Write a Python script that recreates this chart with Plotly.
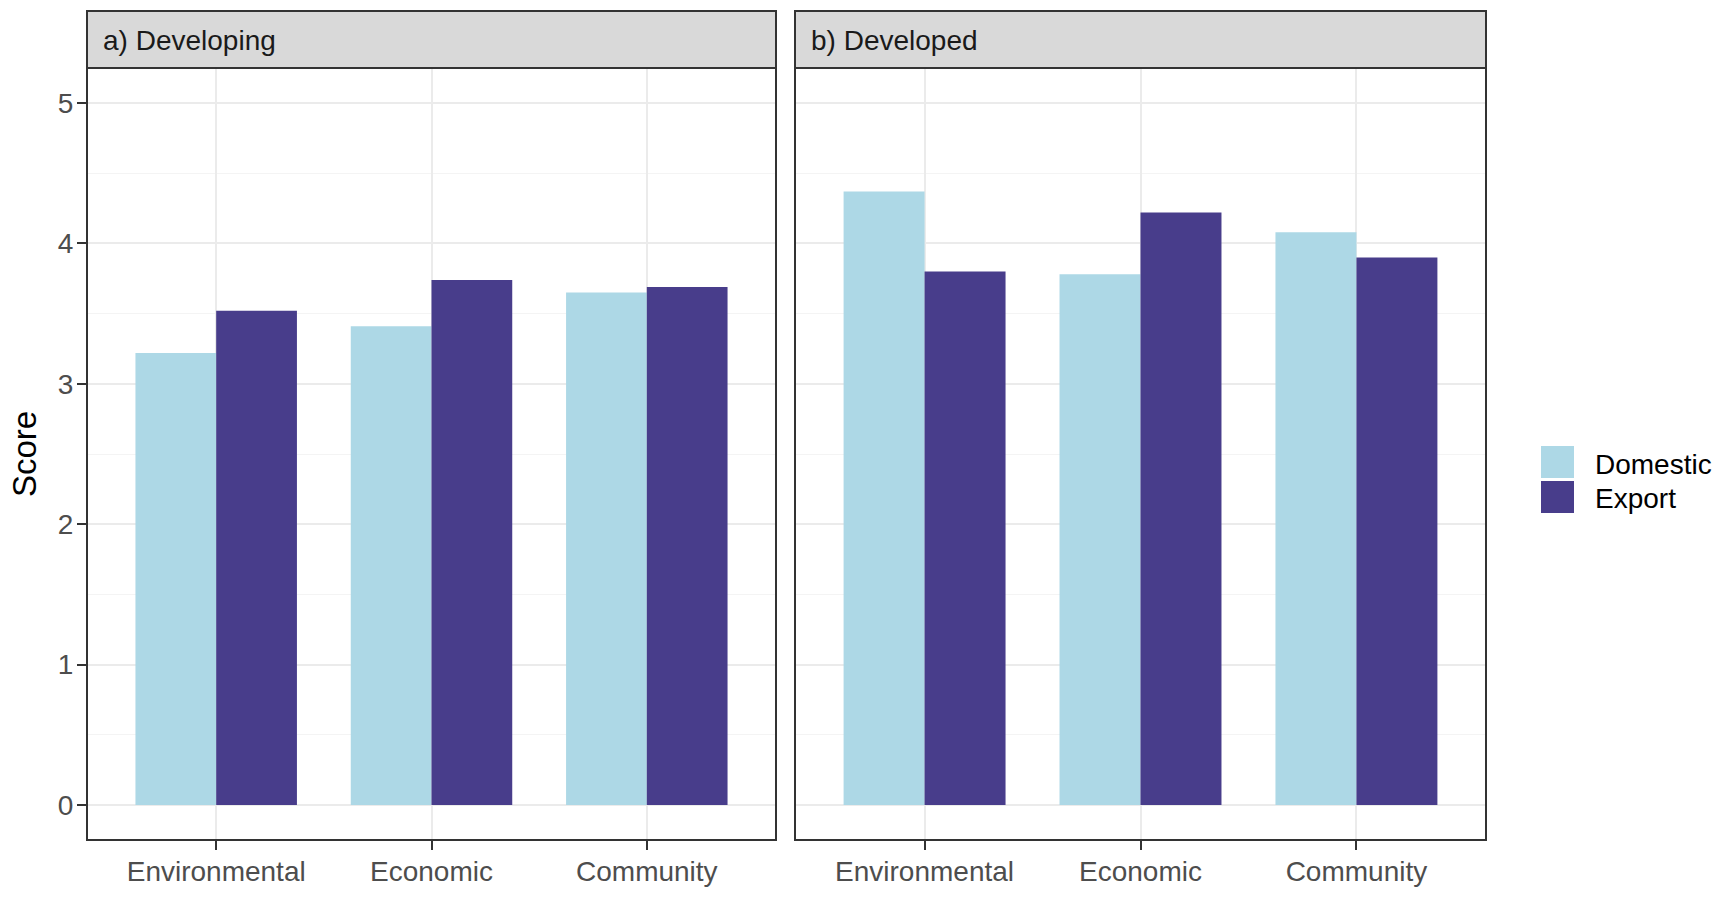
import plotly.graph_objects as go

# ---- data ----
categories = ["Environmental", "Economic", "Community"]
panels = ["a) Developing", "b) Developed"]
series_names = ["Domestic", "Export"]
developing_domestic = [3.22, 3.41, 3.65]
developing_export = [3.52, 3.74, 3.69]
developed_domestic = [4.37, 3.78, 4.08]
developed_export = [3.80, 4.22, 3.90]
y_ticks = [0, 1, 2, 3, 4, 5]
colors = ["#ADD8E6", "#483D8B"]

W, H = 1728, 900
FONT = "Liberation Sans, Arial, sans-serif"

def px(x):
    return x / W

def py(y):
    return 1 - y / H

# panel geometry (pixels)
left_panel = (87, 776)
right_panel = (795, 1486)
plot_top, plot_bottom = 68, 840
strip_top = 11

fig = go.Figure()

panel_data = [
    (developing_domestic, developing_export),
    (developed_domestic, developed_export),
]
for i, (dom, exp) in enumerate(panel_data):
    xa = "x" if i == 0 else "x2"
    ya = "y" if i == 0 else "y2"
    for s, vals in enumerate([dom, exp]):
        fig.add_trace(go.Bar(
            x=categories, y=vals, name=series_names[s],
            marker=dict(color=colors[s], line=dict(width=0)),
            xaxis=xa, yaxis=ya, showlegend=False,
            offsetgroup=str(s), legendgroup=series_names[s],
        ))

axis_common = dict(
    showline=False, zeroline=False, mirror=False,
    ticks="outside", ticklen=9, tickwidth=2, tickcolor="#333333",
    tickfont=dict(family=FONT, size=28, color="#4D4D4D"),
    showgrid=True, gridcolor="#EBEBEB", gridwidth=2,
)

yaxis_common = dict(axis_common)
yaxis_common.update(
    range=[-0.25, 5.25], tickvals=y_ticks,
    minor=dict(tickvals=[0.5, 1.5, 2.5, 3.5, 4.5], showgrid=True,
               gridcolor="#F4F4F4", gridwidth=1, ticks=""),
    domain=[py(plot_bottom), py(plot_top)],
    ticklabelstandoff=-2,
)

xaxis_common = dict(axis_common)
xaxis_common.update(range=[-0.6, 2.6], type="category", ticklabelstandoff=-3)

fig.update_layout(
    width=W, height=H,
    margin=dict(l=0, r=0, t=0, b=0),
    paper_bgcolor="white", plot_bgcolor="white",
    barmode="group", bargap=0.25, bargroupgap=0,
    showlegend=False,
    xaxis=dict(xaxis_common, domain=[px(left_panel[0]), px(left_panel[1])], anchor="y"),
    xaxis2=dict(xaxis_common, domain=[px(right_panel[0]), px(right_panel[1])], anchor="y2"),
    yaxis=dict(yaxis_common, anchor="x"),
    yaxis2=dict(yaxis_common, anchor="x2", showticklabels=False, ticks=""),
)

shapes = []
annotations = []
for (x0, x1), label in zip([left_panel, right_panel], panels):
    # strip background
    shapes.append(dict(type="rect", xref="paper", yref="paper",
                       x0=px(x0), x1=px(x1), y0=py(plot_top), y1=py(strip_top),
                       fillcolor="#D9D9D9", line=dict(color="#333333", width=2), layer="below"))
    # panel border
    shapes.append(dict(type="rect", xref="paper", yref="paper",
                       x0=px(x0), x1=px(x1), y0=py(plot_bottom), y1=py(plot_top),
                       fillcolor="rgba(0,0,0,0)", line=dict(color="#333333", width=2), layer="above"))
    annotations.append(dict(text=label, xref="paper", yref="paper",
                            x=px(x0 + 14), y=py((strip_top + plot_top) / 2 + 1),
                            xanchor="left", yanchor="middle", showarrow=False,
                            font=dict(family=FONT, size=28, color="#1A1A1A")))

# y-axis title
annotations.append(dict(text="Score", xref="paper", yref="paper",
                        x=px(24), y=py((plot_top + plot_bottom) / 2),
                        xanchor="center", yanchor="middle", textangle=-90, showarrow=False,
                        font=dict(family=FONT, size=33, color="black")))

# legend (manual, ggplot-style keys)
key_x0, key_x1 = 1541, 1574
key_tops = [446, 481]
for s, name in enumerate(series_names):
    t = key_tops[s]
    shapes.append(dict(type="rect", xref="paper", yref="paper",
                       x0=px(key_x0), x1=px(key_x1), y0=py(t + 32), y1=py(t),
                       fillcolor=colors[s], line=dict(width=0)))
    annotations.append(dict(text=name, xref="paper", yref="paper",
                            x=px(1593), y=py(t + 18), xanchor="left", yanchor="middle",
                            showarrow=False, font=dict(family=FONT, size=28, color="black")))

fig.update_layout(shapes=shapes, annotations=annotations)
fig.write_html("out.html", config={"displayModeBar": False},
               post_script="document.body.style.margin='0';")
